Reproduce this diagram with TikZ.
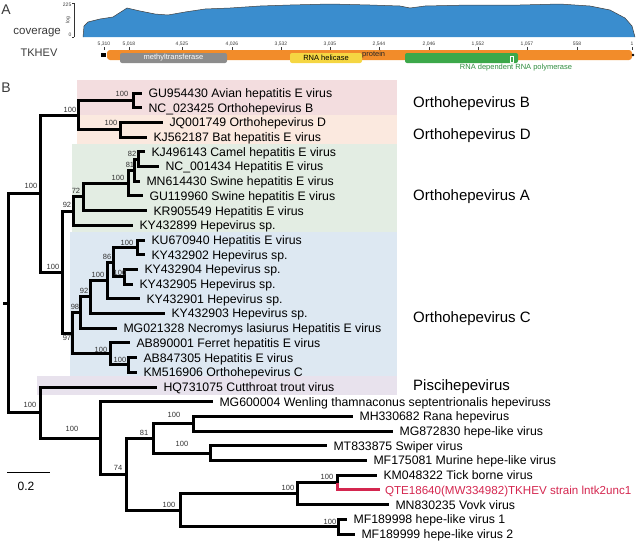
\documentclass[tikz,border=0pt]{standalone}
\usepackage{fontspec}
\setmainfont{Liberation Sans}
\newcommand\myfs[1]{\fontsize{#1}{#1}\selectfont}
\definecolor{covblue}{RGB}{58,141,206}
\definecolor{barorange}{RGB}{242,140,42}
\definecolor{mtgray}{RGB}{140,140,140}
\definecolor{helyellow}{RGB}{245,214,66}
\definecolor{rdrpgreen}{RGB}{60,168,74}
\definecolor{rdrptext}{RGB}{46,140,62}
\definecolor{cpink}{RGB}{243,221,223}
\definecolor{cpeach}{RGB}{251,233,223}
\definecolor{cgreen}{RGB}{227,237,227}
\definecolor{cblue}{RGB}{221,232,242}
\definecolor{clav}{RGB}{232,226,237}
\definecolor{tkred}{RGB}{212,38,79}
\definecolor{txtgray}{RGB}{58,58,58}
\begin{document}
\begin{tikzpicture}[x=1pt,y=-1pt,
  br/.style={line width=3pt, line join=miter},
  leaf/.style={anchor=west, inner xsep=6.5pt, inner ysep=0pt, outer sep=0pt, font=\myfs{12.3}, text height=8.8pt, text depth=0pt},
  boot/.style={font=\myfs{7.5}, inner sep=0pt, text=black!80},
  clab/.style={anchor=west, inner sep=0pt, font=\myfs{15}, text height=10.7pt, text depth=0pt},
  featbox/.style={rounded corners=2pt, minimum height=10pt, inner sep=0pt, font=\myfs{7.5}},
  tlab/.style={font=\myfs{5}, inner sep=0pt, text=txtgray}]
\useasboundingbox (0,0) rectangle (640,542);

% ---------------- Panel A ----------------
\node[font=\myfs{14}, inner sep=0, text=txtgray] (lA) at (6,10) {A};
\node[font=\myfs{11.5}, inner sep=0, anchor=east, text=txtgray] (lcov) at (61,33) {coverage};
\node[font=\myfs{11}, inner sep=0, text=txtgray] (ltk) at (39,53) {TKHEV};
% y axis
\draw[line width=0.6pt, black!80] (74,3) -- (74,37);
\draw[line width=0.5pt, black!80] (72,3) -- (74,3) (72,37) -- (74,37);
\node[tlab, anchor=east] (y225) at (71.5,5) {225};
\node[tlab, anchor=east] (y0) at (71.5,35) {0};
\node[tlab, rotate=90] (ylog) at (68,20) {log};
% coverage profile
\fill[covblue] (83,37) -- (84,26) -- (88,22) -- (100,19) -- (113,17) -- (127,8) -- (140,11) -- (155,14) -- (168,15) -- (185,12) -- (205,9) -- (230,8) -- (260,6) -- (290,5) -- (330,4) -- (370,5) -- (400,6) -- (410,8) -- (425,6) -- (470,5) -- (520,5) -- (560,4) -- (590,6) -- (610,10) -- (625,18) -- (632,26) -- (635,37) -- cycle;
\draw[line width=0.5pt, black!75] (83,37) -- (84,26) -- (88,22) -- (100,19) -- (113,17) -- (127,8) -- (140,11) -- (155,14) -- (168,15) -- (185,12) -- (205,9) -- (230,8) -- (260,6) -- (290,5) -- (330,4) -- (370,5) -- (400,6) -- (410,8) -- (425,6) -- (470,5) -- (520,5) -- (560,4) -- (590,6) -- (610,10) -- (625,18) -- (632,26) -- (635,37);
% ticks
\foreach \x/\t in {104/{5,310},129/{5,018},182/{4,525},232/{4,026},281/{3,532},330/{3,035},379/{2,544},429/{2,046},478/{1,552},527/{1,057},577/558,632/1}{
  \node[tlab] at (\x,44) {\t};
  \draw[line width=0.4pt, txtgray] (\x,47) -- (\x,49.5);
}
% genome bar
\fill[barorange, rounded corners=3pt] (107,50) rectangle (632,60);
\fill[black] (101,53) rectangle (106,57);
\fill[black] (633,55) circle (1.3);
\node[featbox, fill=mtgray, minimum width=107pt, text=white] (mt) at (173.5,58) {methyltransferase};
\node[featbox, fill=helyellow, minimum width=72pt] (hel) at (326,58) {RNA helicase};
\node[font=\myfs{7.5}, inner sep=0, anchor=west, text=black!85] (prot) at (362,54.5) {protein};
\node[featbox, fill=rdrpgreen, minimum width=113pt] (rdrp) at (461.5,58) {};
\draw[white, line width=0.7pt] (510.5,56) rectangle (513,62.5);
\node[font=\myfs{7.5}, inner sep=0, text=rdrptext] (rdrpl) at (516,68) {RNA dependent RNA polymerase};

% ---------------- Panel B ----------------
\node[font=\myfs{14}, inner sep=0, text=txtgray] (lB) at (6,88) {B};
% clade backgrounds
\fill[cpink] (77,80) rectangle (397,114.5);
\fill[cpeach] (77,114.5) rectangle (397,144);
\fill[cgreen] (72,144) rectangle (397,232);
\fill[cblue] (70,232) rectangle (397,376);
\fill[clav] (37,376) rectangle (397,394.5);
% clade labels
\node[clab] (cB) at (413,102) {Orthohepevirus B};
\node[clab] (cD) at (413,134) {Orthohepevirus D};
\node[clab] (cA) at (413,195) {Orthohepevirus A};
\node[clab] (cC) at (413,317) {Orthohepevirus C};
\node[clab] (cP) at (413,385) {Piscihepevirus};

% internal nodes
\coordinate (rs) at (3,303);
\coordinate (R) at (8,303);
\coordinate (X1) at (40,193.6);
\coordinate (X2) at (40,412.5);
\coordinate (Y1) at (78,115.05);
\coordinate (Y2) at (62,272.1);
\coordinate (B) at (133,100.35);
\coordinate (D) at (120,129.75);
\coordinate (A0) at (73,211);
\coordinate (A1) at (83,196.8);
\coordinate (A2) at (128,183.05);
\coordinate (A3) at (134,170.2);
\coordinate (A4) at (138,159.15);
\coordinate (C0) at (72,333.25);
\coordinate (C1) at (80,312.6);
\coordinate (C2) at (90,296.95);
\coordinate (C3) at (107,280.4);
\coordinate (C4) at (113,262.05);
\coordinate (C5) at (137,247.35);
\coordinate (C6) at (124,276.75);
\coordinate (CF) at (110,353.9);
\coordinate (CF2) at (128,364.95);
\coordinate (Z) at (100,438);
\coordinate (V) at (126,474.3);
\coordinate (U) at (153,438.45);
\coordinate (U1) at (193,423.75);
\coordinate (U2) at (210,453.15);
\coordinate (T) at (180,510.1);
\coordinate (T1) at (297,493.6);
\coordinate (T11) at (337,482.55);
\coordinate (T2) at (338,526.65);

% leaves
\node[leaf] (l1) at (142,93) {GU954430 Avian hepatitis E virus};
\node[leaf] (l2) at (142,107.7) {NC\_023425 Orthohepevirus B};
\node[leaf] (l3) at (163,122.4) {JQ001749 Orthohepevirus D};
\node[leaf] (l4) at (147,137.1) {KJ562187 Bat hepatitis E virus};
\node[leaf] (l5) at (145,151.8) {KJ496143 Camel hepatitis E virus};
\node[leaf] (l6) at (159,166.5) {NC\_001434 Hepatitis E virus};
\node[leaf] (l7) at (140,181.2) {MN614430 Swine hepatitis E virus};
\node[leaf] (l8) at (143,195.9) {GU119960 Swine hepatitis E virus};
\node[leaf] (l9) at (147,210.6) {KR905549 Hepatitis E virus};
\node[leaf] (l10) at (133,225.3) {KY432899 Hepevirus sp.};
\node[leaf] (l11) at (145,240) {KU670940 Hepatitis E virus};
\node[leaf] (l12) at (145,254.7) {KY432902 Hepevirus sp.};
\node[leaf] (l13) at (138,269.4) {KY432904 Hepevirus sp.};
\node[leaf] (l14) at (133,284.1) {KY432905 Hepevirus sp.};
\node[leaf] (l15) at (140,298.8) {KY432901 Hepevirus sp.};
\node[leaf] (l16) at (165,313.5) {KY432903 Hepevirus sp.};
\node[leaf] (l17) at (117,328.2) {MG021328 Necromys lasiurus Hepatitis E virus};
\node[leaf] (l18) at (130,342.9) {AB890001 Ferret hepatitis E virus};
\node[leaf] (l19) at (137,357.6) {AB847305 Hepatitis E virus};
\node[leaf] (l20) at (137,372.3) {KM516906 Orthohepevirus C};
\node[leaf] (l21) at (157,387) {HQ731075 Cutthroat trout virus};
\node[leaf] (l22) at (213,401.7) {MG600004 Wenling thamnaconus septentrionalis hepeviruss};
\node[leaf] (l23) at (353,416.4) {MH330682 Rana hepevirus};
\node[leaf] (l24) at (393,431.1) {MG872830 hepe-like virus};
\node[leaf] (l25) at (327,445.8) {MT833875 Swiper virus};
\node[leaf] (l26) at (367,460.5) {MF175081 Murine hepe-like virus};
\node[leaf] (l27) at (377,475.2) {KM048322 Tick borne virus};
\node[leaf, text=tkred, font=\myfs{11.6}, inner xsep=5pt, text height=8.3pt] (l28) at (380,489.9) {QTE18640(MW334982)TKHEV strain lntk2unc1};
\node[leaf] (l29) at (389,504.6) {MN830235 Vovk virus};
\node[leaf] (l30) at (347,519.3) {MF189998 hepe-like virus 1};
\node[leaf] (l31) at (355,534) {MF189999 hepe-like virus 2};

% branches
\draw[br] (rs) -- (R);
\foreach \p/\c in {R/X1, R/X2, X1/Y1, X1/Y2, Y1/B, Y1/D, B/l1.west, B/l2.west, D/l3.west, D/l4.west,
  Y2/A0, Y2/C0, A0/A1, A0/l10.west, A1/A2, A1/l9.west, A2/A3, A2/l8.west, A3/A4, A3/l7.west, A4/l5.west, A4/l6.west,
  C0/C1, C0/CF, C1/C2, C1/l17.west, C2/C3, C2/l16.west, C3/C4, C3/l15.west, C4/C5, C4/C6, C5/l11.west, C5/l12.west,
  C6/l13.west, C6/l14.west, CF/l18.west, CF/CF2, CF2/l19.west, CF2/l20.west,
  X2/l21.west, X2/Z, Z/l22.west, Z/V, V/U, V/T, U/U1, U/U2, U1/l23.west, U1/l24.west, U2/l25.west, U2/l26.west,
  T/T1, T/T2, T1/T11, T1/l29.west, T11/l27.west, T2/l30.west, T2/l31.west}
  \draw[br] (\p) |- (\c);
\draw[br, tkred] (T11) |- (l28.west);

% bootstrap values
\node[boot] (bX1) at (31,186) {100};
\node[boot] (bX2) at (30,405) {100};
\node[boot] (bY1) at (70,110) {100};
\node[boot] (bY2) at (53,267) {100};
\node[boot] (bB) at (122,94) {100};
\node[boot] (bD) at (111,122.5) {100};
\node[boot] (bA0) at (67,205) {92};
\node[boot] (bA1) at (76,191) {72};
\node[boot] (bA2) at (118,178) {100};
\node[boot] (bA3) at (130,164.5) {81};
\node[boot] (bA4) at (132,154) {82};
\node[boot] (bC0) at (67,338) {97};
\node[boot] (bC1) at (75,307) {98};
\node[boot] (bC2) at (84,291) {92};
\node[boot] (bC3) at (98,275) {100};
\node[boot] (bC4) at (107,257) {86};
\node[boot] (bC5) at (127,243) {100};
\node[boot] (bC6) at (120,273) {100};
\node[boot] (bCF) at (101,350) {100};
\node[boot] (bCF2) at (120,360) {100};
\node[boot] (bZ) at (72,429) {100};
\node[boot] (bV) at (118,468) {74};
\node[boot] (bU) at (144,433) {81};
\node[boot] (bU1) at (174,415) {100};
\node[boot] (bU2) at (182,444) {100};
\node[boot] (bT) at (169,505) {100};
\node[boot] (bT1) at (288,488) {100};
\node[boot] (bT11) at (327,477) {100};
\node[boot] (bT2) at (330,522) {100};

% scale bar
\coordinate (sb1) at (7,472);
\coordinate (sb2) at (50,472);
\draw[line width=1pt] (sb1) -- (sb2);
\node[font=\myfs{12}, inner sep=0] (sbl) at (26,486) {0.2};
\end{tikzpicture}
\end{document}
